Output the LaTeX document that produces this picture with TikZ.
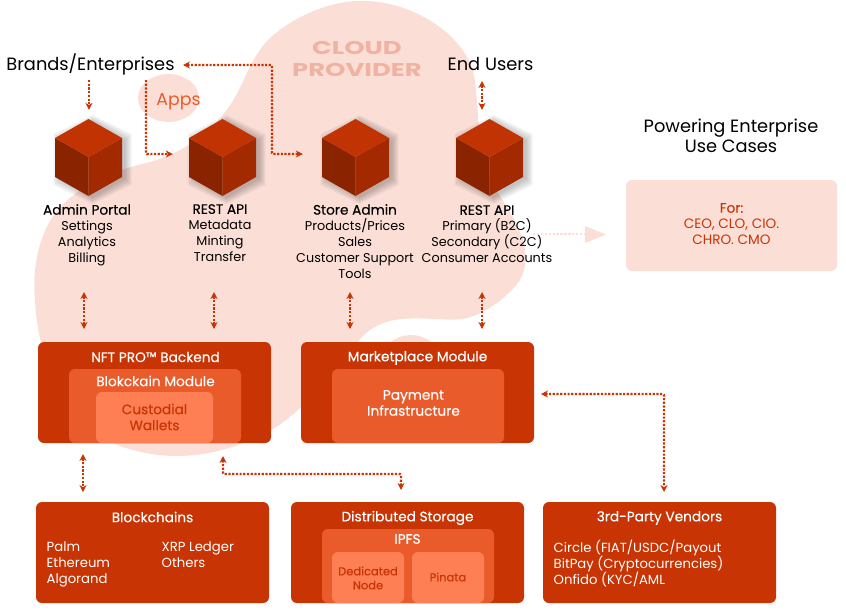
\documentclass[tikz,border=0pt]{standalone}
\usepackage{fontspec}
\setmainfont{Poppins}
\newfontfamily\headfont[FakeBold=0.3]{Poppins}
\usepackage{tikz}
\usetikzlibrary{positioning, arrows.meta, shapes.geometric}
\definecolor{blobpink}{HTML}{FBDFD7}
\definecolor{cloudtxt}{HTML}{F0B2A1}
\definecolor{boxdark}{HTML}{C83403}
\definecolor{boxmid}{HTML}{EA5B2C}
\definecolor{boxlight}{HTML}{FF7F55}
\definecolor{cubetop}{HTML}{C23303}
\definecolor{cubeleft}{HTML}{8A2300}
\definecolor{cuberight}{HTML}{A32A00}

\newcommand{\cube}[2]{% name, centre x
  \foreach \s in {6,4.5,3,1.5,0} {
    \fill[black, opacity=0.05] (#2+4-33-\s,140-\s) -- (#2+4,121-\s) -- (#2+4+33+\s,140-\s) -- (#2+4+33+\s,179+\s) -- (#2+4,198+\s) -- (#2+4-33-\s,179+\s) -- cycle;
  }
  \fill[cubeleft] (#2-33.5,138) -- (#2,157) -- (#2,196) -- (#2-33.5,177) -- cycle;
  \fill[cuberight] (#2+33.5,138) -- (#2,157) -- (#2,196) -- (#2+33.5,177) -- cycle;
  \fill[cubetop] (#2-33.5,138) -- (#2,119) -- (#2+33.5,138) -- (#2,157) -- cycle;
  \node[inner sep=0pt, minimum width=67pt, minimum height=77pt] (#1) at (#2,157.5) {};
}
\newcommand{\cubehead}[1]{{\headfont\fontsize{13.7}{16}\selectfont #1}}

\begin{document}
\begin{tikzpicture}[x=1pt, y=-1pt,
  heading/.style={font=\fontsize{17.8}{20}\selectfont, text=black, align=center, inner sep=0pt},
  cubetext/.style={font=\fontsize{12.8}{16}\selectfont, text=black, align=center, inner sep=0pt, anchor=north},
  boxhead/.style={font=\headfont\fontsize{13.7}{16}\selectfont, text=white, align=center, inner sep=0pt},
  boxtext/.style={font=\fontsize{13.2}{16}\selectfont, text=white, align=left, inner sep=0pt, anchor=north west},
  panel/.style={inner sep=0pt, outer sep=0pt, rounded corners=6pt, minimum width=233pt, minimum height=101pt, fill=boxdark},
  link/.style={draw=boxdark, line width=2.2pt, dash pattern=on 2.2pt off 1.5pt, rounded corners=1pt, arrows={-{Stealth[length=7pt, width=7pt]}}},
  twoway/.style={link, arrows={{Stealth[length=7pt, width=7pt]}-{Stealth[length=7pt, width=7pt]}}}]

\useasboundingbox (0,0) rectangle (846,611);

% --- background blob ---
\fill[blobpink] (367,1) .. controls (335,-1) and (295,15) .. (270,38)
  .. controls (248,60) and (245,85) .. (228,108)
  .. controls (212,130) and (190,150) .. (150,162)
  .. controls (115,170) and (85,182) .. (60,207)
  .. controls (38,232) and (32,270) .. (35,300)
  .. controls (37,345) and (55,420) .. (120,446)
  .. controls (165,462) and (215,460) .. (270,431)
  .. controls (305,410) and (335,372) .. (358,342)
  .. controls (368,328) and (385,320) .. (403,319)
  .. controls (425,317) and (445,321) .. (463,319)
  .. controls (485,315) and (510,295) .. (520,280)
  .. controls (536,250) and (515,220) .. (496,190)
  .. controls (475,150) and (480,110) .. (474,75)
  .. controls (465,35) and (415,3) .. (367,1) -- cycle;
\fill[blobpink] (390,343) .. controls (398,334) and (420,331) .. (432,343) -- cycle;

\node[ellipse, fill=blobpink, inner sep=0pt, minimum width=61pt, minimum height=48pt] (appsBlob) at (168.5,98) {};
\node[font=\fontsize{17.3}{20}\selectfont, text=boxmid, inner sep=0pt] (appsText) at (178.5,102) {Apps};

\node[font=\bfseries\fontsize{18.5}{22}\selectfont, text=cloudtxt, align=center, inner sep=0pt, xscale=1.4, transform shape] (cloudText) at (357,59) {CLOUD\\PROVIDER};

% --- actors ---
\node[heading] (brandsText) at (90.5,64) {Brands/Enterprises};
\node[heading] (usersText) at (490.5,64) {End Users};
\node[heading] (poweringText) at (731,136) {Powering Enterprise\\Use Cases};

% --- cubes ---
\cube{portalCube}{88.5}
\cube{restCube}{222.5}
\cube{storeCube}{355.5}
\cube{tradeCube}{489.5}

\node[cubetext] (portalText) at (87,204) {\cubehead{Admin Portal}\\Settings\\Analytics\\Billing};
\node[cubetext] (restText) at (220,204) {\cubehead{REST API}\\Metadata\\Minting\\Transfer};
\node[cubetext] (storeText) at (355,204) {\cubehead{Store Admin}\\Products/Prices\\Sales\\Customer Support\\Tools};
\node[cubetext] (tradeText) at (487,205) {\cubehead{REST API}\\Primary (B2C)\\Secondary (C2C)\\Consumer Accounts};

% --- use cases box ---
\node[panel, fill=blobpink, minimum width=211pt, minimum height=91pt] (forBox) at (731.5,225.5) {};
\node[font=\fontsize{13.6}{16}\selectfont, text=boxdark, align=center, inner sep=0pt] (forText) at (731.5,224) {{\headfont For:}\\CEO, CLO, CIO.\\CHRO. CMO};
\coordinate (forTail) at (533,234);
\coordinate (forNeck) at (585,234);
\draw[draw=blobpink, line width=2.6pt, dash pattern=on 2.4pt off 1.5pt] (forTail) -- (forNeck);
\fill[blobpink] (585,226) -- (606,234.5) -- (585,243) -- cycle;

% --- backend row ---
\node[panel] (nftBox) at (154.5,392.5) {};
\node[panel, fill=boxmid, minimum width=172pt, minimum height=74pt] (moduleBox) at (155,406) {};
\node[panel, fill=boxlight, minimum width=117pt, minimum height=51pt] (walletBox) at (154.5,417.5) {};
\node[boxhead] (nftText) at (155.5,357) {NFT PRO™ Backend};
\node[boxhead] (moduleText) at (155.5,381) {Blokckain Module};
\node[boxhead, text=boxdark] (walletText) at (154.5,417) {Custodial\\Wallets};

\node[panel] (marketBox) at (417.5,392.5) {};
\node[panel, fill=boxmid, minimum width=172pt, minimum height=74pt] (payBox) at (418,406) {};
\node[boxhead] (marketText) at (417.5,358) {Marketplace Module};
\node[boxhead] (payText) at (413.5,403) {Payment\\Infrastructure};

% --- bottom row ---
\node[panel] (chainBox) at (152.5,552.5) {};
\node[boxhead] (chainText) at (152.5,517) {Blockchains};
\node[boxtext] (chainLeft) at (46.5,542) {Palm\\Ethereum\\Algorand};
\node[boxtext] (chainRight) at (161.5,542) {XRP Ledger\\Others};

\node[panel] (storageBox) at (407.5,552.5) {};
\node[panel, fill=boxmid, minimum width=172pt, minimum height=74pt] (ipfsBox) at (408,566) {};
\node[panel, fill=boxlight, minimum width=72pt, minimum height=51pt] (dedicatedBox) at (368,577.5) {};
\node[panel, fill=boxlight, minimum width=72pt, minimum height=51pt] (pinataBox) at (448,577.5) {};
\node[boxhead] (storageText) at (407.5,518) {Distributed Storage};
\node[boxhead] (ipfsText) at (407.5,539) {IPFS};
\node[boxhead, text=boxdark, font=\headfont\fontsize{11.5}{14}\selectfont] (dedicatedText) at (368,578) {Dedicated\\Node};
\node[boxhead, text=boxdark, font=\headfont\fontsize{11.5}{14}\selectfont] (pinataText) at (448,577) {Pinata};

\node[panel] (vendorBox) at (659.5,552.5) {};
\node[boxhead] (vendorText) at (659.5,518) {3rd-Party Vendors};
\node[boxtext] (vendorList) at (553.5,540) {Circle (FIAT/USDC/Payout\\BitPay (Cryptocurrencies)\\Onfido (KYC/AML};

% --- connectors ---
\coordinate (portalIn) at (89,80);
\coordinate (appsOut) at (146,80);
\coordinate (brandsIn) at (183,65);
\coordinate (storeBend) at (272,65);
\coordinate (usersOut) at (482,81);
\coordinate (portalOut) at (84,292);
\coordinate (restOut) at (214,292);
\coordinate (storeOut) at (350,292);
\coordinate (tradeOut) at (482,292);
\coordinate (chainUp) at (83,474);
\coordinate (nftBend) at (223,474);
\coordinate (ipfsBend) at (401,474);
\coordinate (vendorBend) at (664,394);

\draw[link, shorten >=9pt] (portalIn) -- (portalIn |- portalCube.north);
\draw[link, shorten >=16pt] (appsOut) |- ([yshift=3.5pt]restCube.west);
\draw[twoway, shorten >=19pt] (brandsIn) -- (storeBend) |- ([yshift=3.5pt]storeCube.west);
\draw[twoway, shorten >=9pt] (usersOut) -- (usersOut |- tradeCube.north);

\draw[twoway, shorten >=13pt] (portalOut) -- (portalOut |- nftBox.north);
\draw[twoway, shorten >=13pt] (restOut) -- (restOut |- nftBox.north);
\draw[twoway, shorten >=13pt] (storeOut) -- (storeOut |- marketBox.north);
\draw[twoway, shorten >=13pt] (tradeOut) -- (tradeOut |- marketBox.north);

\draw[twoway, shorten <=11pt, shorten >=10pt] (chainUp |- nftBox.south) -- (chainUp |- chainBox.north);
\draw[twoway, shorten <=13pt, shorten >=12pt] (nftBend |- nftBox.south) -- (nftBend) -- (ipfsBend) -- (ipfsBend |- storageBox.north);
\draw[twoway, shorten <=7pt, shorten >=10pt] (vendorBend -| marketBox.east) -- (vendorBend) -- (vendorBend |- vendorBox.north);

\end{tikzpicture}
\end{document}
